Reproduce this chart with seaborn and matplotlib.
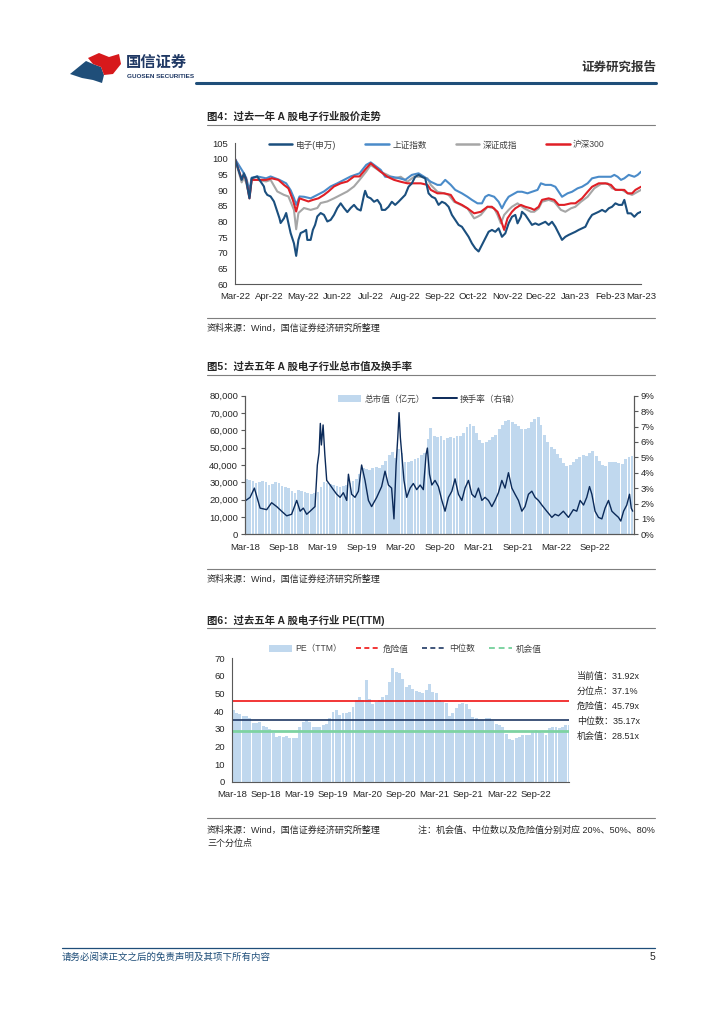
import numpy as np
import pandas as pd
import matplotlib
matplotlib.use('Agg')
import matplotlib.pyplot as plt
import matplotlib.dates as mdates
import matplotlib.ticker as mticker
from matplotlib.lines import Line2D
from matplotlib.patches import Patch, Polygon
import seaborn as sns

# ---------------- data: chart 4 (past year, index Mar-22 = 100) ----------------
base1 = pd.Timestamp('2022-03-01')
elec_days = [0,6,8,10,13,15,20,22,26,27,29,32,35,38,40,41,44,46,48,50,53,55,57,59,62,64,65,68,70,72,74,77,80,83,86,89,92,95,98,101,104,107,110,113,116,117,119,122,125,128,131,132,135,138,141,144,147,150,153,156,159,162,165,168,171,174,177,180,183,186,189,192,195,198,201,204,207,210,213,216,219,222,225,228,231,234,237,240,243,246,249,252,254,257,258,261,264,267,270,273,276,279,282,285,288,291,294,297,300,303,306,309,312,315,318,321,324,327,330,333,336,339,342,345,348,350,353,356,359,362,365]
elec_vals = [100,93.3,95.4,93.3,87.4,93.8,94.4,93.3,91.2,89.6,88.5,88,86.4,83.2,81,79.5,81,82.7,79.5,76.3,73,69,74.1,76.3,76.8,77.3,74.1,74.1,77.3,78.9,81.6,82.7,82.1,80,80.5,82.1,84.3,85.8,84.3,83,84.3,85.3,84,83.5,88.5,89.8,87.9,87.4,86.3,86.9,85.3,83.7,83.7,84.7,86.3,85.3,86.3,87.4,88.5,91.1,92.2,94.3,94.9,94.3,93.8,89,87.9,87.4,85.3,86.3,85.8,84.7,82.1,80.5,78.9,78.3,76.7,75.1,73,71.4,70.4,72.5,74.6,76.7,77.3,76.7,77.8,75.1,76.2,79.4,81.5,82.1,79.4,81.5,83.1,82.1,80.5,78.9,79.4,78.9,79.4,79.9,78.9,79.9,78.3,76.2,74.1,75.1,75.7,76.2,76.7,77.3,77.8,78.3,80.5,82.1,82.6,83.1,83.7,83.1,84.2,84.7,85.8,85.3,85.3,86.9,82.6,82.6,81.5,82.6,83.1]
sh_days = [0,8,10,13,15,20,28,32,40,46,50,53,55,58,62,68,74,80,86,92,98,104,112,118,122,131,135,141,148,153,159,165,170,176,182,185,189,194,198,204,209,213,218,222,225,228,233,237,240,243,246,249,254,258,263,267,272,275,279,284,288,291,294,299,303,308,312,317,321,327,333,338,341,344,347,350,354,359,362,365]
sh_vals = [100,95.4,94,90,94,94.4,93.8,94.4,93.3,92.2,90,87.5,85.3,88,87.9,87.4,88.5,89.6,91.2,92.2,93.3,94.4,95.4,98.1,98.9,96.5,94.3,94.3,93.8,93.3,94.9,95.4,94.3,92.7,91.7,91.7,93.3,91.7,90.1,89,87.9,86.9,85.8,85.8,87.9,88.5,87.9,86.3,84.2,86.3,87.9,88.5,89.5,89.5,89,89.5,90.1,92.2,91.7,91.7,91.1,89.5,87.9,89,89.5,90.6,91.1,92.2,93.8,94.3,94.3,94.3,94.9,94.3,93.3,93.8,94.9,94.3,94.9,95.9]
sz_days = [0,6,8,10,13,15,20,28,32,38,44,48,53,55,57,62,68,74,77,83,89,95,101,107,112,118,122,131,137,143,149,155,161,167,173,176,182,188,192,197,203,209,215,218,221,227,233,236,239,242,246,249,254,260,266,269,273,276,282,287,293,297,302,306,311,317,323,329,335,339,344,348,353,357,362,365]
sz_vals = [100,92.5,94,92.5,88,93.3,93.3,92.8,93.3,89.6,88.5,88,83.7,77.5,82.7,84.3,83.7,84.3,85.9,86.4,87.4,88.5,89.6,91.2,93.3,96,98.1,95.9,94.9,93.8,94.3,92.7,94.3,94.3,93.8,91.7,89.5,89,88.5,86.3,85.3,84.2,81,81.5,82.1,84.7,84.2,82.1,79.4,82.1,83.7,84.7,85.8,84.2,83.1,83.1,84.2,86.3,86.9,86.3,83.7,83.1,84.2,84.7,86.3,87.9,90.6,92,92.2,90.6,90.1,90.1,89,88.5,89.5,90.1]
hs_days = [0,6,8,10,13,15,22,28,33,39,44,48,52,55,58,62,66,70,75,80,84,89,95,101,107,112,118,122,131,137,143,149,155,161,167,173,176,182,188,194,198,204,209,215,221,227,231,236,239,242,245,249,252,257,261,266,269,273,276,282,287,291,296,302,306,312,317,321,327,333,338,342,347,350,353,357,360,365]
hs_vals = [100,93.5,95,93.5,87.4,93.3,93.3,93.3,93.8,93.3,91.7,90.6,86.9,83.2,87.4,86.9,86.4,86.9,87.4,88.5,89.6,91.2,92.2,92.8,94.4,94.4,97,98.6,95.9,94.3,93.3,92.7,92.2,92.2,92.2,91.7,90.1,89,89,88.5,86.3,85.3,84.2,82.6,83.1,84.7,84.7,83.1,80.5,77.3,81,83.1,84.2,85.3,84.7,84.2,83.7,84.7,86.9,87.4,86.9,85.3,85.3,85.8,85.8,87.4,89.5,91.1,92.2,92.2,91.7,90.1,90.1,90.1,89,89,90.1,91.1]
legend1_labels = ['电子(申万)', '上证指数', '深证成指', '沪深300']

# ---------------- data: chart 5 (market cap, turnover) ----------------
base2 = pd.Timestamp('2018-03-01')
cap_vals = [32000,31500,30500,29500,30000,30500,30000,28500,29000,30000,29500,28000,27500,27000,25000,24000,25500,25000,24500,24000,
            23500,24000,24500,27500,30000,29500,29000,28500,28000,27500,28000,28500,29500,31000,32000,35000,38000,37500,37000,38500,39000,38500,40000,42500,
            45500,47500,44000,49000,47000,42000,41500,42500,43500,44000,45500,47000,55000,61500,57000,56000,56500,54500,55500,56000,55500,57000,56500,58500,
            62000,63500,62500,58500,54500,52500,53500,54500,56000,57500,60500,63000,65500,66000,65000,63500,62500,61000,60500,61500,65000,66500,67500,63000,
            57500,53500,50500,49000,46500,44000,41000,39500,40000,41500,43500,44500,45500,45000,47000,48000,45000,42500,40000,39500,41500,42000,41500,41000,
            40500,43500,44500,45000]
turn_days = [0,24,44,71,102,125,149,172,196,219,243,259,274,290,306,329,340,348,354,359,367,375,384,400,415,431,447,462,478,486,501,517,533,548,564,580,595,619,642,658,674,689,700,710,718,724,730,738,747,760,776,791,807,823,838,851,857,867,878,893,909,925,940,956,972,987,1003,1019,1034,1050,1066,1081,1097,1113,1128,1144,1160,1175,1191,1207,1222,1238,1254,1269,1285,1301,1316,1332,1348,1363,1379,1395,1418,1442,1457,1473,1496,1520,1543,1559,1575,1591,1606,1619,1630,1645,1661,1677,1692,1708,1724,1739,1755,1766,1779,1794,1807,1815,1822]
turn_vals = [2.16,2.4,3.0,1.7,1.6,2.05,1.8,1.5,1.2,1.3,2.2,1.5,1.7,1.3,1.5,1.8,4.5,5.3,7.2,5.8,7.1,5.2,3.5,3.2,2.9,2.6,2.4,2.7,2.2,3.9,2.6,2.4,2.8,4.5,3.5,2.2,1.8,2.4,3.1,4.1,3.2,3.0,1.0,4.5,6.3,7.9,6.3,5.0,3.5,2.4,3.0,3.3,2.9,3.2,2.9,5.2,5.6,3.9,3.2,3.5,3.1,2.2,1.5,2.4,2.8,3.6,2.6,2.2,3.0,3.5,2.6,2.4,3.0,2.2,2.4,2.2,1.8,2.2,2.7,3.5,3.0,4.0,3.0,2.6,2.2,1.5,1.8,2.6,2.8,2.4,2.2,1.9,1.5,1.1,1.3,1.2,1.5,1.1,1.6,1.5,2.2,1.9,2.4,3.1,2.6,1.5,1.1,1.0,1.7,2.2,1.5,1.3,1.1,0.86,1.5,1.9,2.6,1.7,1.5]
legend2_labels = ['总市值（亿元）', '换手率（右轴）']

# ---------------- data: chart 6 (PE TTM) ----------------
pe_vals = [40.6,39.0,38.4,37.0,37.2,36.0,33.5,33.5,34.0,31.5,31.0,30.0,27.5,25.5,26.0,25.5,26.0,24.6,24.6,25.0,
           31.0,34.0,35.0,34.0,31.0,30.8,31.0,32.0,33.0,36.0,39.7,40.6,37.8,38.7,38.7,39.7,42.5,46.3,48.2,46.3,
           57.7,47.0,44.0,45.0,46.3,48.2,49.1,56.7,64.3,62.4,61.4,58.0,54.0,54.8,52.5,51.5,51.0,50.5,52.0,55.4,
           51.0,50.5,46.3,45.4,44.4,37.5,39.0,42.0,43.8,44.4,44.0,41.0,36.5,35.9,35.0,35.0,35.9,35.9,34.5,33.0,
           32.1,31.2,27.0,24.0,23.6,24.6,25.5,26.5,26.5,26.5,28.4,29.3,28.0,27.4,26.5,30.2,31.2,30.8,30.2,30.8,
           32.1,32.0]
pe_danger, pe_median, pe_chance = 45.79, 35.17, 28.51
legend3_labels = ['PE（TTM）', '危险值', '中位数', '机会值']
pe_notes = ['当前值：31.92x', '分位点：37.1%', '危险值：45.79x', '中位数：35.17x', '机会值：28.51x']

# ---------------- style ----------------
sns.set_theme(style='white')
plt.rcParams['font.family'] = ['Liberation Sans', 'Noto Sans CJK SC', 'DejaVu Sans']
plt.rcParams['axes.unicode_minus'] = False

W, H = 724, 1024
fig = plt.figure(figsize=(W / 100, H / 100), dpi=100)
fig.patch.set_facecolor('white')

def fx(x): return x / W
def fy(y): return 1 - y / H
def add_ax(l, t, r, b): return fig.add_axes([fx(l), fy(b), (r - l) / W, (b - t) / H])
def hline(x1, x2, y, color, lw):
    fig.add_artist(Line2D([fx(x1), fx(x2)], [fy(y), fy(y)], color=color, lw=lw, transform=fig.transFigure))
def txt(x, y, s, **kw):
    kw.setdefault('va', 'center')
    fig.text(fx(x), fy(y), s, **kw)

SPINE = '#595959'
TXT = '#262626'
BAR = '#C0D8EE'

def style_ax(ax, sides=('left', 'bottom')):
    for s in ['left', 'right', 'top', 'bottom']:
        ax.spines[s].set_visible(s in sides)
        ax.spines[s].set_color(SPINE)
        ax.spines[s].set_linewidth(0.8)
    ax.tick_params(axis='both', labelsize=6.8, length=3, width=0.8, color=SPINE,
                   labelcolor=TXT, direction='out', pad=2)
    ax.set_xlabel('')
    ax.set_ylabel('')
    ax.grid(False)
    ax.set_facecolor('none')

# ---------------- header ----------------
blue_pts = [(70, 74), (86, 61), (93, 64), (101, 67), (104, 75), (102, 83), (93, 80), (82, 78)]
red_pts = [(88, 58), (99, 53), (109, 57), (119, 54), (121, 64), (113, 74), (104, 75), (101, 67), (93, 64)]
fig.add_artist(Polygon([[fx(x), fy(y)] for x, y in blue_pts], closed=True, transform=fig.transFigure,
                       facecolor='#1F4E79', edgecolor='none'))
fig.add_artist(Polygon([[fx(x), fy(y)] for x, y in red_pts], closed=True, transform=fig.transFigure,
                       facecolor='#D7191C', edgecolor='none'))
txt(126, 63, '国信证券', fontsize=11, weight='bold', color='#1F3864')
txt(127, 76.5, 'GUOSEN SECURITIES', fontsize=4.6, weight='bold', color='#1F3864')
txt(656, 68, '证券研究报告', fontsize=9, weight='bold', color='#333333', ha='right')
hline(196, 656, 83, '#1F4E79', 2.2)

# ---------------- chart 4 ----------------
txt(207, 117, '图4：过去一年 A 股电子行业股价走势', fontsize=7.5, weight='bold', color=TXT)
hline(207, 655, 125, '#7F7F7F', 0.8)

ax1 = add_ax(235, 143.3, 641, 284)
c_elec, c_sh, c_sz, c_hs = '#1B4F7E', '#4A8BC9', '#A6A6A6', '#E01F26'
series = [(sz_days, sz_vals, c_sz), (sh_days, sh_vals, c_sh), (hs_days, hs_vals, c_hs), (elec_days, elec_vals, c_elec)]
for d, v, c in series:
    dates = base1 + pd.to_timedelta(d, unit='D')
    sns.lineplot(x=dates, y=v, ax=ax1, color=c, linewidth=1.5, legend=False)
ax1.set_ylim(60, 105)
ax1.set_yticks(range(60, 106, 5))
ax1.set_xlim(pd.Timestamp('2022-03-01'), pd.Timestamp('2023-03-01'))
ax1.xaxis.set_major_locator(mdates.MonthLocator())
ax1.xaxis.set_major_formatter(mdates.DateFormatter('%b-%y'))
style_ax(ax1)
ax1.tick_params(axis='x', pad=3)
h1 = [Line2D([], [], color=c, lw=1.8) for c in [c_elec, c_sh, c_sz, c_hs]]
fig.legend(h1, legend1_labels, loc='center', bbox_to_anchor=(fx(437), fy(145)), ncol=4, frameon=False,
           fontsize=6.2, handlelength=2.7, columnspacing=3.4, handletextpad=0.4, labelcolor='#404040')

hline(207, 655, 318, '#7F7F7F', 0.8)
txt(207, 328, '资料来源：Wind，国信证券经济研究所整理', fontsize=6.5, color=TXT)

# ---------------- chart 5 ----------------
txt(207, 367, '图5：过去五年 A 股电子行业总市值及换手率', fontsize=7.5, weight='bold', color=TXT)
hline(207, 655, 375, '#7F7F7F', 0.8)

ax2 = add_ax(245, 395.7, 634, 534.3)
cap_dates = pd.date_range('2018-03-01', periods=len(cap_vals), freq='SMS')
ax2.bar(cap_dates, cap_vals, width=13, color=BAR, linewidth=0, align='edge')
ax2.set_ylim(0, 80000)
ax2.set_yticks(range(0, 80001, 10000))
ax2.yaxis.set_major_formatter(mticker.FuncFormatter(lambda v, p: f'{v:,.0f}'))
xt2 = [pd.Timestamp(f'{y}-{m:02d}-01') for y in range(2018, 2023) for m in (3, 9)]
ax2.set_xlim(pd.Timestamp('2018-03-01'), pd.Timestamp('2023-03-03'))
ax2.set_xticks(xt2)
ax2.xaxis.set_major_formatter(mdates.DateFormatter('%b-%y'))
style_ax(ax2, sides=('left', 'bottom', 'right'))
ax2.tick_params(axis='x', pad=3)

ax2r = ax2.twinx()
turn_dates = base2 + pd.to_timedelta(turn_days, unit='D')
sns.lineplot(x=turn_dates, y=turn_vals, ax=ax2r, color='#0B2A59', linewidth=1.0, legend=False)
ax2r.set_ylim(0, 9)
ax2r.set_yticks(range(0, 10))
ax2r.yaxis.set_major_formatter(mticker.FuncFormatter(lambda v, p: f'{v:.0f}%'))
ax2r.set_xlim(pd.Timestamp('2018-03-01'), pd.Timestamp('2023-03-03'))
style_ax(ax2r, sides=('left', 'bottom', 'right'))
h2 = [Patch(facecolor=BAR, edgecolor='none'), Line2D([], [], color='#0B2A59', lw=1.4)]
fig.legend(h2, legend2_labels, loc='center', bbox_to_anchor=(fx(429), fy(399)), ncol=2, frameon=False,
           fontsize=6.2, handlelength=2.7, handleheight=0.9, columnspacing=1.0, handletextpad=0.4,
           labelcolor='#404040')

hline(207, 655, 569, '#7F7F7F', 0.8)
txt(207, 579, '资料来源：Wind，国信证券经济研究所整理', fontsize=6.5, color=TXT)

# ---------------- chart 6 ----------------
txt(207, 620, '图6：过去五年 A 股电子行业 PE(TTM)', fontsize=7.5, weight='bold', color=TXT)
hline(207, 655, 628, '#7F7F7F', 0.8)

ax3 = add_ax(231.7, 658.3, 569.3, 781.7)
pe_dates = pd.date_range('2018-03-01', periods=len(pe_vals), freq='18D')
ax3.bar(pe_dates, pe_vals, width=16, color=BAR, linewidth=0, align='edge')
c_danger, c_median, c_chance = '#F01414', '#1F3864', '#7ED3A2'
ax3.axhline(pe_danger, color=c_danger, lw=1.2)
ax3.axhline(pe_median, color=c_median, lw=1.2)
ax3.axhline(pe_chance, color=c_chance, lw=2.0)
ax3.set_ylim(0, 70)
ax3.set_yticks(range(0, 71, 10))
ax3.set_xlim(pd.Timestamp('2018-03-01'), pd.Timestamp('2023-03-01'))
ax3.set_xticks(xt2)
ax3.xaxis.set_major_formatter(mdates.DateFormatter('%b-%y'))
style_ax(ax3)
ax3.tick_params(axis='x', pad=3)
h3 = [Patch(facecolor=BAR, edgecolor='none'),
      Line2D([], [], color=c_danger, lw=1.2, ls=(0, (3, 2))),
      Line2D([], [], color=c_median, lw=1.2, ls=(0, (3, 2))),
      Line2D([], [], color=c_chance, lw=1.4, ls=(0, (3, 2)))]
fig.legend(h3, legend3_labels, loc='center', bbox_to_anchor=(fx(405), fy(649)), ncol=4, frameon=False,
           fontsize=6.2, handlelength=2.7, handleheight=0.9, columnspacing=1.6, handletextpad=0.4,
           labelcolor='#404040')
for i, s in enumerate(pe_notes):
    txt(577, 676 + i * 15.2, s, fontsize=6.5, color=TXT)

hline(207, 655, 818, '#7F7F7F', 0.8)
txt(207, 830, '资料来源：Wind，国信证券经济研究所整理', fontsize=6.5, color=TXT)
txt(655, 830, '注：机会值、中位数以及危险值分别对应 20%、50%、80%', fontsize=6.5, color=TXT, ha='right')
txt(207, 843, '三个分位点', fontsize=6.5, color=TXT)

# ---------------- footer ----------------
hline(62, 655, 948, '#1F4E79', 0.9)
txt(62, 957, '请务必阅读正文之后的免责声明及其项下所有内容', fontsize=6.8, color='#1F4E79')
txt(655, 957, '5', fontsize=7.5, color=TXT, ha='right')

fig.savefig('out.png', dpi=100, facecolor='white')
